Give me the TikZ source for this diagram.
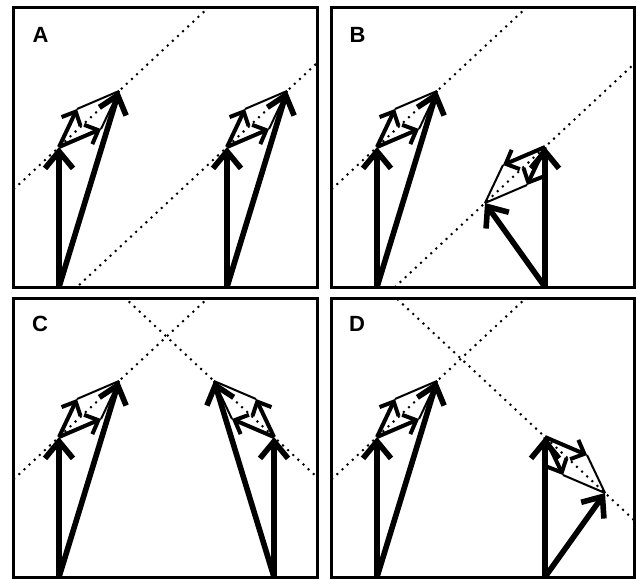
\documentclass[tikz,border=0pt]{standalone}
\usepackage{fontspec}
\setsansfont{Liberation Sans}
\usepackage{tikz}
\usetikzlibrary{positioning, arrows.meta, calc}
\tikzset{
    vec/.style={
        line width=2.8pt,
        -{Straight Barb[length=8.5pt,width=14pt]}
    },
    subvec/.style={
        line width=2pt,
        -{Straight Barb[length=5.5pt,width=10.5pt]}
    },
    side/.style={
        line width=1pt
    },
    guide/.style={
        line width=1pt,
        dash pattern=on 1pt off 2.5pt
    },
    frame/.style={
        line width=1.5pt
    },
    panellabel/.style={
        inner sep=0pt,
        font=\sffamily\bfseries\fontsize{11}{11}\selectfont
    }
}

\begin{document}
\begin{tikzpicture}[x=0.5pt, y=-0.5pt]
\useasboundingbox (0,0) rectangle (636,579);

%---------------- Panel A ----------------

\coordinate (A1base) at (59,287);
\coordinate (A1o) at (59,147);
\coordinate (A1p) at (77,109);
\coordinate (A1q) at (101,129);
\coordinate (A1s) at (119,91);

\coordinate (A2base) at (227,287);
\coordinate (A2o) at (227,147);
\coordinate (A2p) at (245,109);
\coordinate (A2q) at (269,129);
\coordinate (A2s) at (287,91);

\begin{scope}
\clip (13,7) rectangle (317,287);
\draw[guide] ($(A1o)!-4!(A1s)$) -- ($(A1o)!4!(A1s)$);
\draw[guide] ($(A2o)!-4!(A2s)$) -- ($(A2o)!4!(A2s)$);
\end{scope}

\draw[side] (A1p)--(A1s);
\draw[side] (A1q)--(A1s);
\draw[subvec] (A1o)--(A1p);
\draw[subvec] (A1o)--(A1q);
\draw[vec] (A1base)--(A1o);
\draw[vec] (A1base)--(A1s);

\draw[side] (A2p)--(A2s);
\draw[side] (A2q)--(A2s);
\draw[subvec] (A2o)--(A2p);
\draw[subvec] (A2o)--(A2q);
\draw[vec] (A2base)--(A2o);
\draw[vec] (A2base)--(A2s);

\draw[frame] (13,7) rectangle (317,287);
\node[panellabel] (labA) at (40.5,34.5) {A};

%---------------- Panel B ----------------

\coordinate (B1base) at (377,287);
\coordinate (B1o) at (377,147);
\coordinate (B1p) at (395,109);
\coordinate (B1q) at (419,129);
\coordinate (B1s) at (437,91);

\coordinate (B2base) at (545,287);
\coordinate (B2o) at (545,147);
\coordinate (B2p) at (527,185);
\coordinate (B2q) at (503,165);
\coordinate (B2s) at (485,203);

\begin{scope}
\clip (331,7) rectangle (634,287);
\draw[guide] ($(B1o)!-4!(B1s)$) -- ($(B1o)!4!(B1s)$);
\draw[guide] ($(B2o)!-4!(B2s)$) -- ($(B2o)!4!(B2s)$);
\end{scope}

\draw[side] (B1p)--(B1s);
\draw[side] (B1q)--(B1s);
\draw[subvec] (B1o)--(B1p);
\draw[subvec] (B1o)--(B1q);
\draw[vec] (B1base)--(B1o);
\draw[vec] (B1base)--(B1s);

\draw[side] (B2p)--(B2s);
\draw[side] (B2q)--(B2s);
\draw[subvec] (B2o)--(B2p);
\draw[subvec] (B2o)--(B2q);
\draw[vec] (B2base)--(B2o);
\draw[vec] (B2base)--(B2s);

\draw[frame] (331,7) rectangle (634,287);
\node[panellabel] (labB) at (357.5,34.5) {B};

%---------------- Panel C ----------------

\coordinate (C1base) at (59,577);
\coordinate (C1o) at (59,437);
\coordinate (C1p) at (77,399);
\coordinate (C1q) at (101,419);
\coordinate (C1s) at (119,381);

\coordinate (C2base) at (274,577);
\coordinate (C2o) at (274,437);
\coordinate (C2p) at (256,399);
\coordinate (C2q) at (232,419);
\coordinate (C2s) at (214,381);

\begin{scope}
\clip (13,298) rectangle (317,577);
\draw[guide] ($(C1o)!-4!(C1s)$) -- ($(C1o)!4!(C1s)$);
\draw[guide] ($(C2o)!-4!(C2s)$) -- ($(C2o)!4!(C2s)$);
\end{scope}

\draw[side] (C1p)--(C1s);
\draw[side] (C1q)--(C1s);
\draw[subvec] (C1o)--(C1p);
\draw[subvec] (C1o)--(C1q);
\draw[vec] (C1base)--(C1o);
\draw[vec] (C1base)--(C1s);

\draw[side] (C2p)--(C2s);
\draw[side] (C2q)--(C2s);
\draw[subvec] (C2o)--(C2p);
\draw[subvec] (C2o)--(C2q);
\draw[vec] (C2base)--(C2o);
\draw[vec] (C2base)--(C2s);

\draw[frame] (13,298) rectangle (317,577);
\node[panellabel] (labC) at (40,323.5) {C};

%---------------- Panel D ----------------

\coordinate (D1base) at (377,577);
\coordinate (D1o) at (377,437);
\coordinate (D1p) at (395,399);
\coordinate (D1q) at (419,419);
\coordinate (D1s) at (437,381);

\coordinate (D2base) at (545,577);
\coordinate (D2o) at (545,437);
\coordinate (D2p) at (563,475);
\coordinate (D2q) at (587,455);
\coordinate (D2s) at (605,493);

\begin{scope}
\clip (331,298) rectangle (634,577);
\draw[guide] ($(D1o)!-4!(D1s)$) -- ($(D1o)!4!(D1s)$);
\draw[guide] ($(D2o)!-4!(D2s)$) -- ($(D2o)!4!(D2s)$);
\end{scope}

\draw[side] (D1p)--(D1s);
\draw[side] (D1q)--(D1s);
\draw[subvec] (D1o)--(D1p);
\draw[subvec] (D1o)--(D1q);
\draw[vec] (D1base)--(D1o);
\draw[vec] (D1base)--(D1s);

\draw[side] (D2p)--(D2s);
\draw[side] (D2q)--(D2s);
\draw[subvec] (D2o)--(D2p);
\draw[subvec] (D2o)--(D2q);
\draw[vec] (D2base)--(D2o);
\draw[vec] (D2base)--(D2s);

\draw[frame] (331,298) rectangle (634,577);
\node[panellabel] (labD) at (357,323.5) {D};

\end{tikzpicture}
\end{document}
